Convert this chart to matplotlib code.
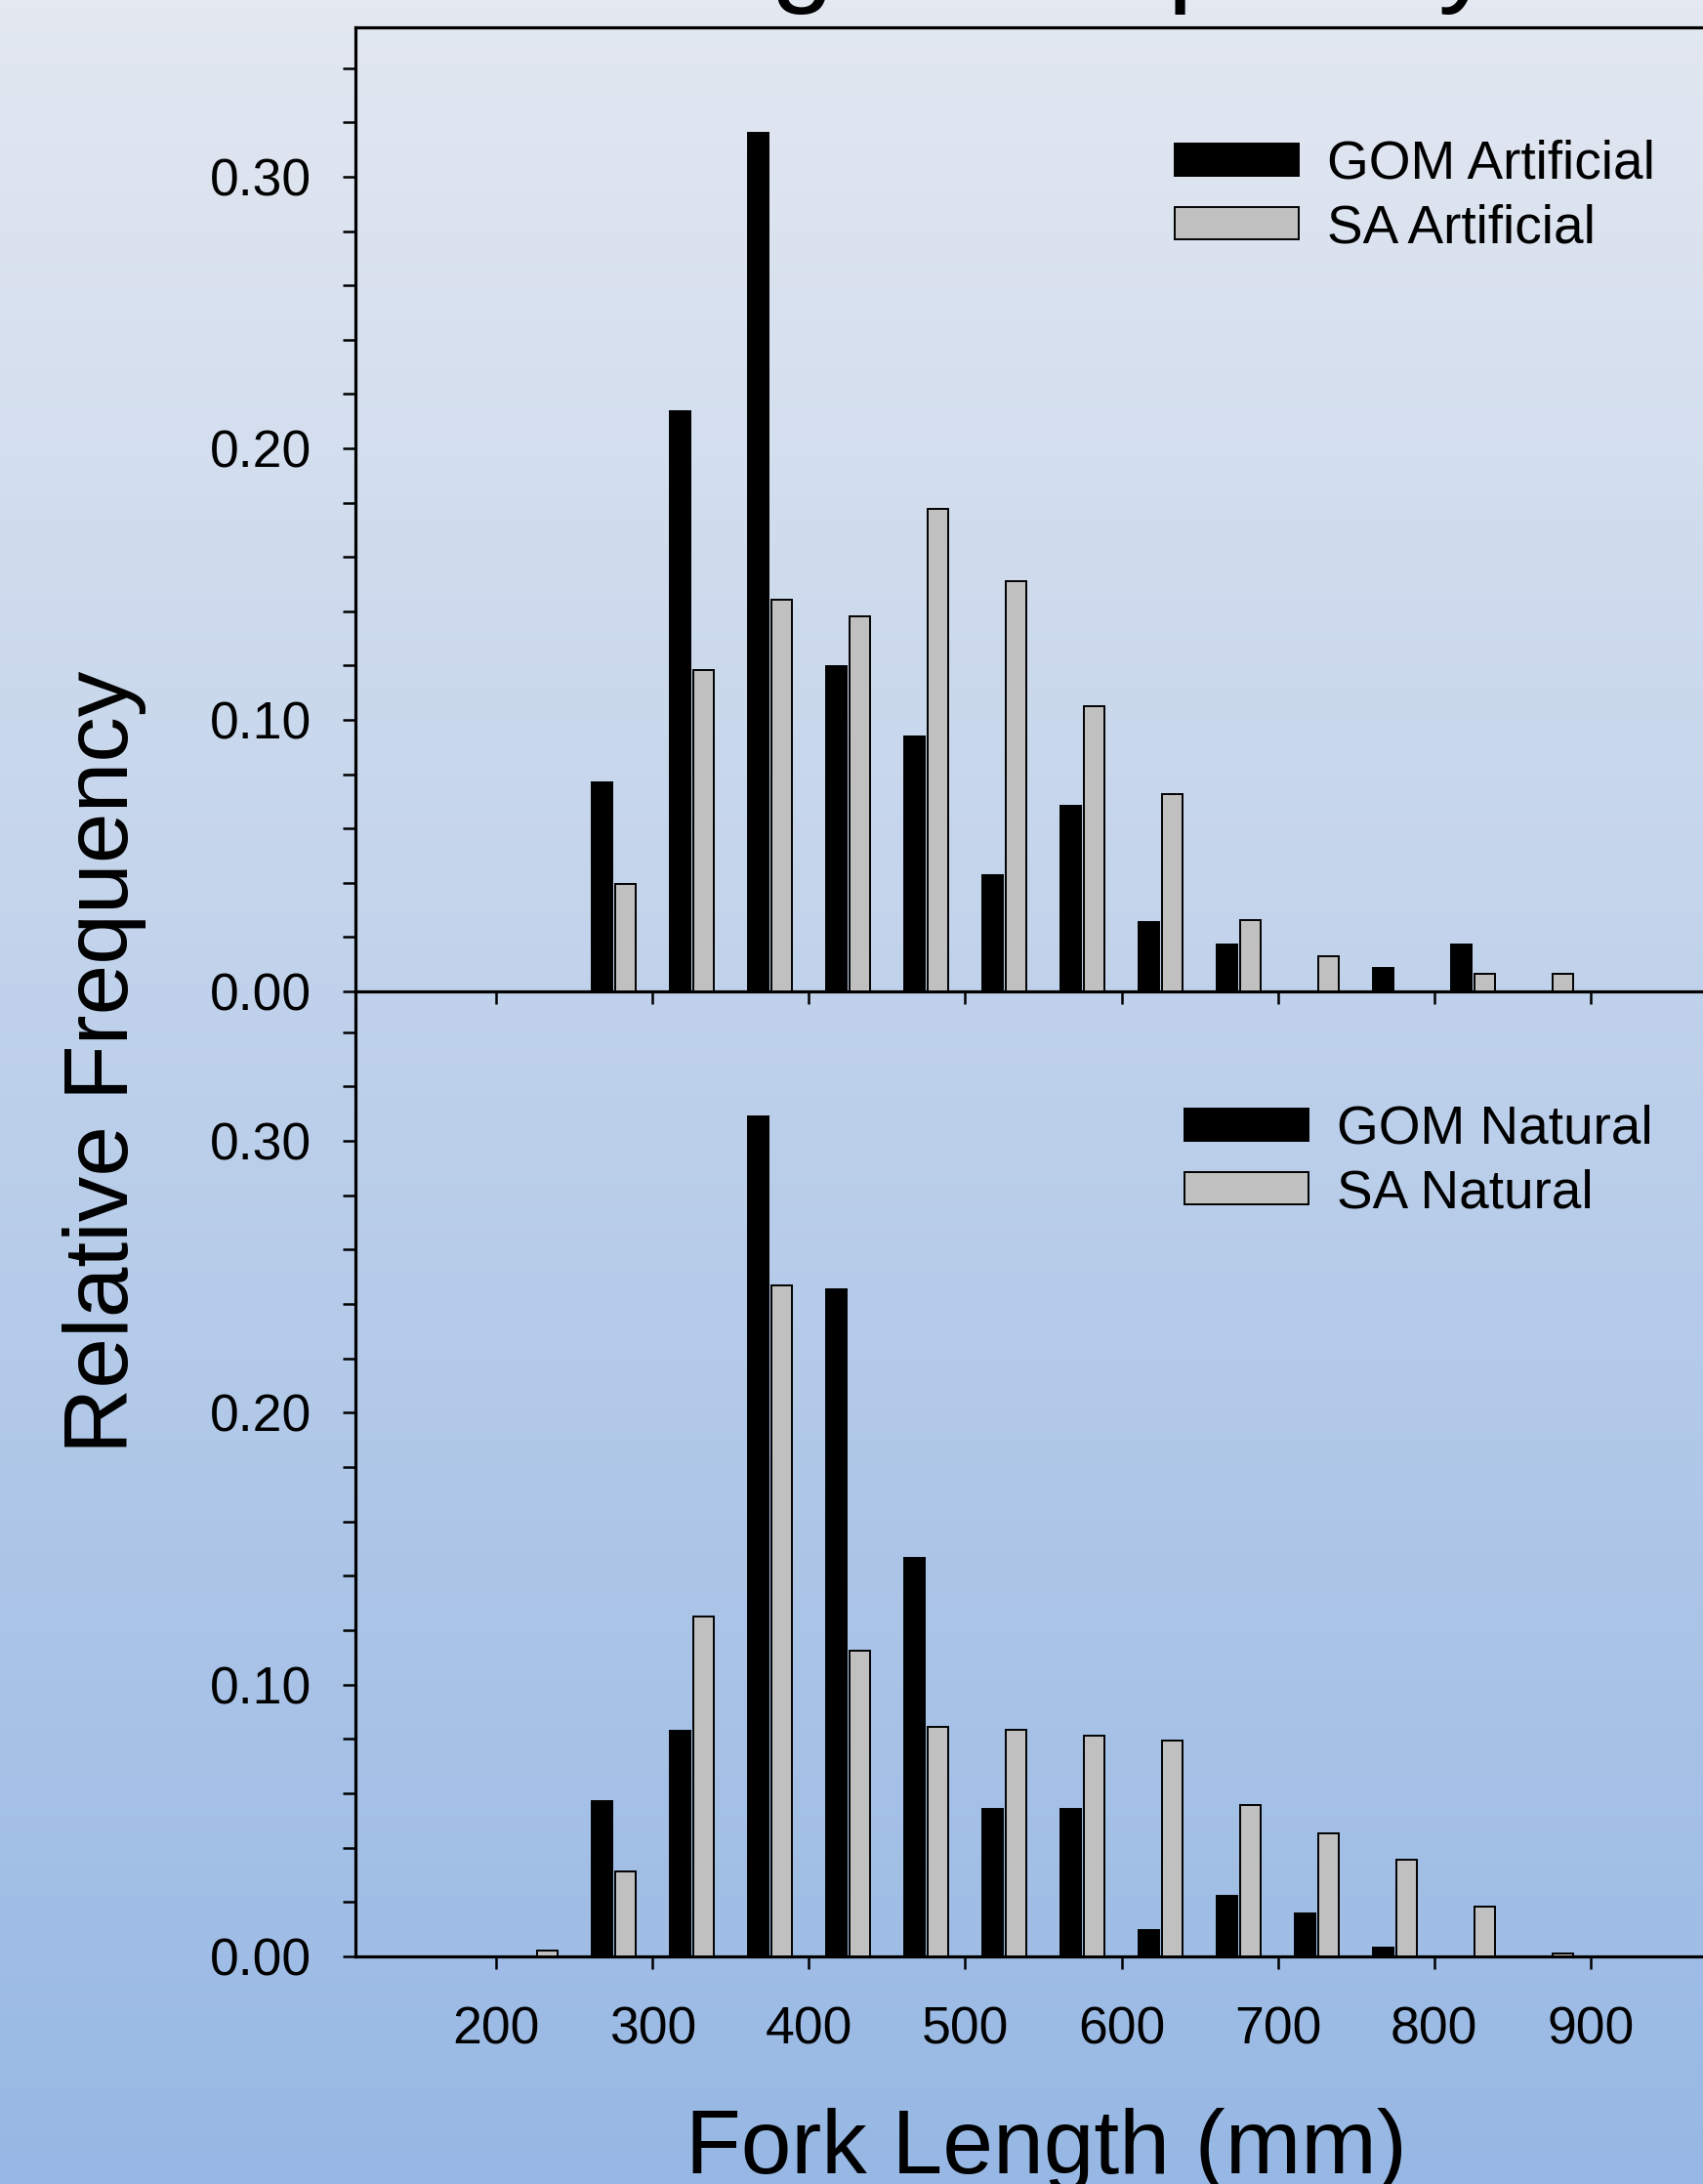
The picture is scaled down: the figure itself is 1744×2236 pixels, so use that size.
import numpy as np
import matplotlib
matplotlib.use("Agg")
import matplotlib.pyplot as plt
from matplotlib.ticker import MultipleLocator, FormatStrFormatter

plt.rcParams['font.family'] = ['Liberation Sans', 'DejaVu Sans']

# bin centres (mm) and relative frequencies
bins = [225, 275, 325, 375, 425, 475, 525, 575, 625, 675, 725, 775, 825, 875]
gom_art = [0, 0.0769, 0.2137, 0.3160, 0.1197, 0.0940, 0.0429, 0.0684,
           0.0256, 0.0171, 0, 0.0085, 0.0171, 0]
sa_art = [0, 0.0395, 0.1185, 0.1444, 0.1381, 0.1776, 0.1512, 0.1052,
          0.0725, 0.0262, 0.0129, 0, 0.0066, 0.0066]
gom_nat = [0, 0.0573, 0.0831, 0.3091, 0.2455, 0.1467, 0.0542, 0.0542,
           0.0096, 0.0224, 0.0159, 0.0034, 0, 0]
sa_nat = [0.0022, 0.0311, 0.1251, 0.2470, 0.1123, 0.0846, 0.0834, 0.0812,
          0.0793, 0.0556, 0.0451, 0.0354, 0.0183, 0.0012]
x_ticks = [200, 300, 400, 500, 600, 700, 800, 900]

W, H = 1744, 2236
fig = plt.figure(figsize=(W / 100, H / 100), dpi=100)

# slide background gradient
bg = fig.add_axes([0, 0, 1, 1], zorder=-10)
top_c = np.array([227, 232, 241]) / 255
bot_c = np.array([151, 184, 228]) / 255
t = np.linspace(0, 1, 256)[:, None]
grad = (1 - t) * top_c + t * bot_c
bg.imshow(grad[:, None, :], aspect='auto', extent=[0, 1, 0, 1])
bg.set_axis_off()

left = 364 / W
width = 1425 / W
ax_top = fig.add_axes([left, 1 - 1015 / H, width, 987 / H])
ax_bot = fig.add_axes([left, 1 - 2003 / H, width, 988 / H])

bw = 13
off = 7.5
xb = np.array(bins)
lw_axis = 2.3
leg_fs = 39.5
leg_kw = dict(loc='upper left', frameon=False, fontsize=leg_fs,
              handlelength=2.31, handleheight=0.55, handletextpad=0.53,
              labelspacing=0.25, borderpad=0, borderaxespad=0)


def style(ax, show_top):
    ax.set_facecolor('none')
    ax.set_xlim(110, 1000)
    ax.set_ylim(0, 0.355)
    ax.set_xticks(x_ticks)
    ax.yaxis.set_major_locator(MultipleLocator(0.10))
    ax.yaxis.set_minor_locator(MultipleLocator(0.02))
    ax.yaxis.set_major_formatter(FormatStrFormatter('%.2f'))
    ax.tick_params(axis='both', which='both', direction='out', length=9.5,
                   width=1.8, labelsize=38.5, colors='black')
    ax.tick_params(axis='y', which='both', pad=23)
    ax.tick_params(axis='x', pad=27)
    ax.spines['right'].set_visible(False)
    ax.spines['top'].set_visible(show_top)
    for s in ax.spines.values():
        s.set_linewidth(lw_axis)


ax_top.bar(xb - off, gom_art, width=bw, color='black', edgecolor='black',
           linewidth=1.4, label='GOM Artificial', zorder=3)
ax_top.bar(xb + off, sa_art, width=bw, color='#C0C0C0', edgecolor='black',
           linewidth=1.4, label='SA Artificial', zorder=3)
style(ax_top, True)
ax_top.tick_params(axis='x', labelbottom=False)
ax_top.legend(bbox_to_anchor=(0.5888, 0.884), **leg_kw)

ax_bot.bar(xb - off, gom_nat, width=bw, color='black', edgecolor='black',
           linewidth=1.4, label='GOM Natural', zorder=3)
ax_bot.bar(xb + off, sa_nat, width=bw, color='#C0C0C0', edgecolor='black',
           linewidth=1.4, label='SA Natural', zorder=3)
style(ax_bot, False)
ax_bot.legend(bbox_to_anchor=(0.5958, 0.883), **leg_kw)

fig.text(107 / W, 1 - 1087 / H, 'Relative Frequency', rotation=90,
         fontsize=67, ha='center', va='center')
fig.text(1071 / W, 1 - 2225 / H, 'Fork Length (mm)', fontsize=67,
         ha='center', va='baseline')
# title sits above the cropped slide edge, only descenders show
fig.text(1063 / W, 1 + 9 / H, 'Length Frequency', fontsize=83.5,
         ha='center', va='baseline')

fig.savefig('out.png', dpi=100)
